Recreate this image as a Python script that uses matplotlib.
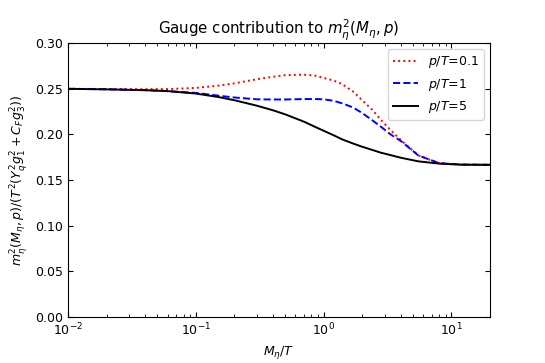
import matplotlib
matplotlib.use("Agg")
import matplotlib.pyplot as plt

plt.rcParams['font.size'] = 9

# M_eta/T sample points
m_over_t = [0.01, 0.02, 0.04, 0.06, 0.1, 0.15, 0.2, 0.3, 0.4, 0.5, 0.7, 0.85,
            1.0, 1.2, 1.4, 1.7, 2.0, 2.4, 2.8, 3.3, 4.0, 5.5, 8.0, 12.0, 20.0]

# p/T = 0.1
y_p01 = [0.2500, 0.2498, 0.2496, 0.2497, 0.2510, 0.2535, 0.2560, 0.2605, 0.2632, 0.2650, 0.2655, 0.2645,
         0.2620, 0.2590, 0.2550, 0.2470, 0.2375, 0.2270, 0.2160, 0.2055, 0.1940, 0.1770, 0.1685, 0.1670, 0.1667]
# p/T = 1
y_p1 = [0.2500, 0.2495, 0.2485, 0.2475, 0.2455, 0.2425, 0.2405, 0.2385, 0.2383, 0.2383, 0.2388, 0.2388,
        0.2385, 0.2368, 0.2340, 0.2295, 0.2235, 0.2155, 0.2085, 0.2005, 0.1930, 0.1770, 0.1685, 0.1670, 0.1667]
# p/T = 5
y_p5 = [0.2500, 0.2494, 0.2485, 0.2475, 0.2448, 0.2410, 0.2375, 0.2315, 0.2265, 0.2220, 0.2140, 0.2085,
        0.2040, 0.1990, 0.1945, 0.1900, 0.1865, 0.1830, 0.1800, 0.1775, 0.1745, 0.1705, 0.1680, 0.1668, 0.1667]

labels = ["$p/T$=0.1", "$p/T$=1", "$p/T$=5"]

fig = plt.figure(figsize=(5.45, 3.63), dpi=100)
ax = fig.add_axes([0.125, 0.127, 0.774, 0.754])

ax.plot(m_over_t, y_p01, color="red", linestyle=":", linewidth=1.4, label=labels[0])
ax.plot(m_over_t, y_p1, color="blue", linestyle="--", linewidth=1.4, label=labels[1])
ax.plot(m_over_t, y_p5, color="black", linestyle="-", linewidth=1.4, label=labels[2])

ax.set_xscale("log")
ax.set_xlim(0.01, 20)
ax.set_ylim(0.0, 0.30)
ax.set_yticks([0.0, 0.05, 0.10, 0.15, 0.20, 0.25, 0.30])

# ticks inward on all four sides
ax.tick_params(which="both", direction="in", top=True, right=True)

ax.set_xlabel(r"$M_\eta/T$")
ax.set_ylabel(r"$m_\eta^2(M_\eta,p)/(T^2(Y_q^2 g_1^2+C_F g_3^2))$")
ax.set_title(r"Gauge contribution to $m_\eta^2(M_\eta,p)$", fontsize=10.8)
ax.legend(loc="upper right")

fig.savefig("out.png", dpi=100)
